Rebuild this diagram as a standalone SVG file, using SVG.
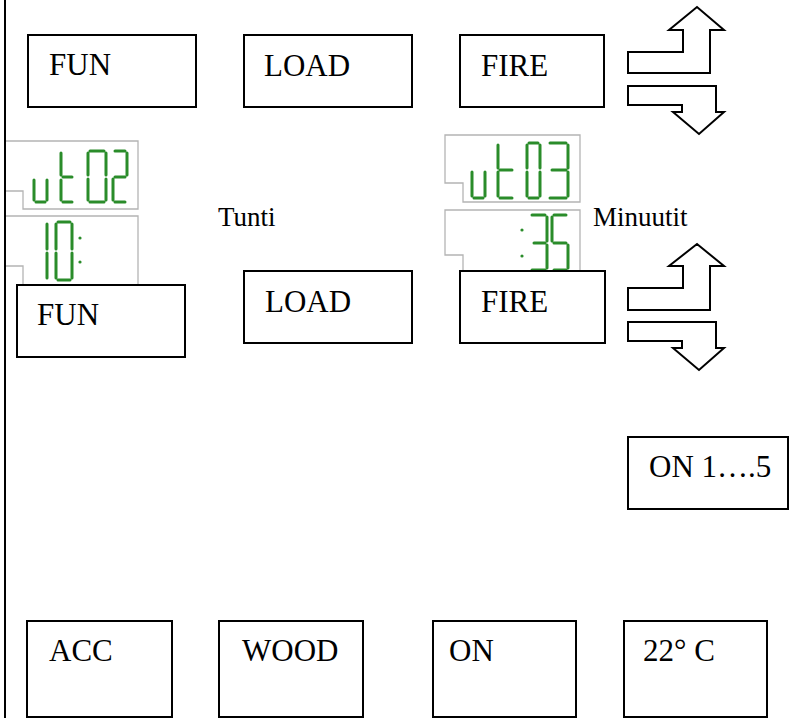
<svg xmlns="http://www.w3.org/2000/svg" width="789" height="718" viewBox="0 0 789 718">
  <style>
    .box { fill: #fff; stroke: #000; stroke-width: 2; }
    .lbl { font-family: "Liberation Serif", "Times New Roman", serif; font-size: 31px; fill: #000; }
    .cap { font-family: "Liberation Serif", "Times New Roman", serif; font-size: 27px; fill: #000; }
    .lcd { fill: #fff; stroke: #b4b4b4; stroke-width: 1.3; }
    .seg { fill: none; stroke: #2a8c2a; stroke-width: 3; stroke-linecap: round; }
    .dot { fill: #2a8c2a; }
    .arrow { fill: #fff; stroke: #000; stroke-width: 2; stroke-linejoin: miter; }
  </style>
  <rect width="789" height="718" fill="#fff"/>

  <!-- left border line -->
  <line x1="5" y1="0" x2="5" y2="718" stroke="#000" stroke-width="2"/>

  <!-- LCD read-outs -->
  <g id="lcd-hours-code">
    <path class="lcd" d="M6,141 H138 V209 H23 V191 H6"/>
    <path class="seg" d="M34,180 V200 M36,202 H45 M47,180 V200
                         M61,153 V175 M61,180 V200 M63,202 H72 M63,177 H72
                         M90,151 H104 M88,153 V175 M88,179 V200 M90,202 H104 M106,153 V175 M106,179 V200
                         M115,151 H125 M127,153 V175 M115,177 H125 M113,179 V200 M115,202 H125"/>
  </g>
  <g id="lcd-hours-value">
    <path class="lcd" d="M6,216 H138 V288 M6,266 H23 V288"/>
    <path class="seg" d="M47,224 V249 M47,253 V278
                         M58,222 H70 M56,224 V249 M56,253 V278 M58,280 H70 M72,224 V249 M72,253 V278"/>
    <circle class="dot" cx="80" cy="238" r="1.6"/>
    <circle class="dot" cx="80" cy="262" r="1.6"/>
  </g>
  <g id="lcd-minutes-code">
    <path class="lcd" d="M445,135 H580 V202 H463 V183 H445 Z"/>
    <path class="seg" d="M472,172 V196 M474,198 H483 M485,172 V196
                         M498,145 V168 M498,172 V196 M500,198 H512 M500,170 H512
                         M529,143 H538 M527,145 V168 M527,172 V196 M529,198 H538 M540,145 V168 M540,172 V196
                         M550,143 H566 M568,145 V168 M552,170 H566 M568,172 V196 M550,198 H566"/>
  </g>
  <g id="lcd-minutes-value">
    <path class="lcd" d="M463,274 V255 H445 V210 H580 V274"/>
    <circle class="dot" cx="522" cy="230" r="1.6"/>
    <circle class="dot" cx="522" cy="256" r="1.6"/>
    <path class="seg" d="M532,215 H545 M547,217 V241 M534,243 H545 M547,245 V268 M532,270 H545
                         M554,215 H566 M552,217 V241 M554,243 H566 M568,245 V268 M554,270 H566"/>
  </g>

  <text class="cap" x="218" y="226">Tunti</text>
  <text class="cap" x="593" y="226">Minuutit</text>

  <!-- first button row -->
  <g id="fun-1"><rect class="box" x="28" y="35" width="168" height="72"/><text class="lbl" x="49" y="75">FUN</text></g>
  <g id="load-1"><rect class="box" x="244" y="35" width="168" height="72"/><text class="lbl" x="264" y="76">LOAD</text></g>
  <g id="fire-1"><rect class="box" x="460" y="35" width="144" height="72"/><text class="lbl" x="481" y="76">FIRE</text></g>

  <!-- second button row -->
  <g id="fun-2"><rect class="box" x="17" y="285" width="168" height="72"/><text class="lbl" x="37" y="325">FUN</text></g>
  <g id="load-2"><rect class="box" x="244" y="271" width="168" height="72"/><text class="lbl" x="265" y="312">LOAD</text></g>
  <g id="fire-2"><rect class="box" x="460" y="271" width="145" height="72"/><text class="lbl" x="481" y="312">FIRE</text></g>

  <!-- up / down arrow pairs -->
  <g id="arrows-1">
    <polygon class="arrow" points="628,52 683,52 683,30 669,30 697,7 724,30 710,30 710,73 628,73"/>
    <polygon class="arrow" points="628,86 716,86 716,112 724,112 699,134 673,112 682,112 682,105 628,105"/>
  </g>
  <g id="arrows-2">
    <polygon class="arrow" points="628,288 683,288 683,266 669,266 697,244 724,266 710,266 710,310 628,310"/>
    <polygon class="arrow" points="628,322 716,322 716,348 724,348 699,370 673,348 682,348 682,341 628,341"/>
  </g>

  <g id="on-levels"><rect class="box" x="628" y="437" width="160" height="72"/><text class="lbl" x="649" y="477">ON 1….5</text></g>

  <!-- bottom row -->
  <g id="acc"><rect class="box" x="27" y="621" width="145" height="96"/><text class="lbl" x="49" y="661">ACC</text></g>
  <g id="wood"><rect class="box" x="219" y="621" width="144" height="96"/><text class="lbl" x="242" y="661">WOOD</text></g>
  <g id="on"><rect class="box" x="433" y="621" width="143" height="96"/><text class="lbl" x="449" y="661">ON</text></g>
  <g id="temp"><rect class="box" x="624" y="621" width="143" height="96"/><text class="lbl" x="643" y="661">22° C</text></g>
</svg>
